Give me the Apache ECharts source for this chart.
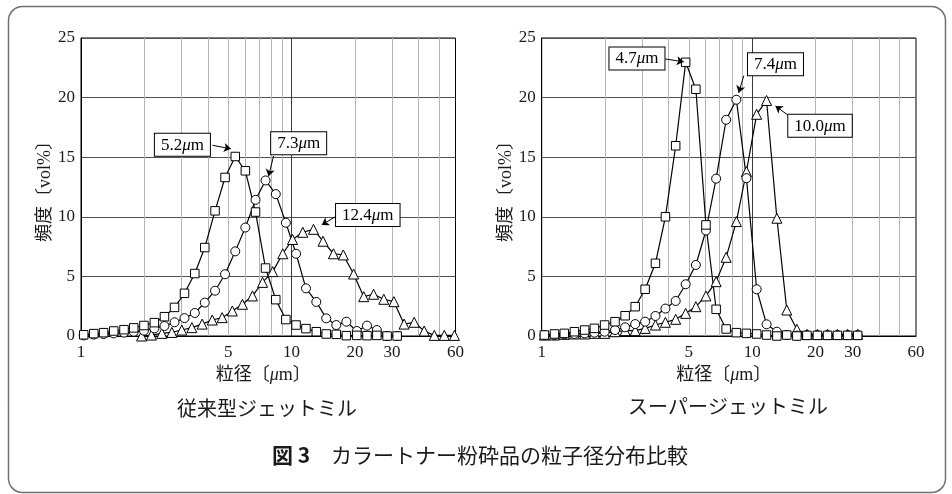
<!DOCTYPE html>
<html><head><meta charset="utf-8">
<script src="https://cdn.jsdelivr.net/npm/echarts@6/dist/echarts.min.js"></script>
<style>html,body{margin:0;padding:0;background:#fff}#c{width:952px;height:494px}</style>
</head><body><div id="c"></div>
<script>
// particle size bins (μm)
const sizesA = [1.03, 1.15, 1.28, 1.43, 1.6, 1.78, 1.99, 2.23, 2.49, 2.78, 3.1, 3.47, 3.87, 4.33, 4.83, 5.4, 6.03, 6.74, 7.52, 8.41, 9.39, 10.5, 11.7, 13.1, 14.6, 16.3, 18.2, 20.4, 22.8, 25.4, 28.4, 31.7];
const sizesB = [1.94, 2.16, 2.42, 2.7, 3.01, 3.36, 3.76, 4.2, 4.68, 5.23, 5.84, 6.52, 7.28, 8.13, 9.08, 10.1, 11.3, 12.7, 14.1, 15.8, 17.6, 19.7, 22.0, 24.5, 27.4, 30.6, 34.2, 38.2, 42.6, 47.6, 53.1, 59.3];

// 従来型ジェットミル
const leftSquare = [0.1, 0.2, 0.28, 0.42, 0.53, 0.68, 0.88, 1.12, 1.62, 2.4, 3.58, 5.24, 7.42, 10.5, 13.3, 15.06, 13.86, 10.4, 5.7, 3.05, 1.38, 0.92, 0.62, 0.36, 0.17, 0.14, 0.03, 0.05, 0.03, 0.05, 0, 0];
const leftCircle = [0.05, 0.12, 0.17, 0.22, 0.28, 0.36, 0.45, 0.64, 0.84, 1.15, 1.5, 1.93, 2.8, 3.8, 5.18, 7.1, 9.1, 11.42, 13.05, 11.9, 9.5, 6.9, 4.0, 2.86, 1.48, 0.92, 1.2, 0.42, 0.87, 0.5, 0, 0];
const leftTriangle = [0, 0.08, 0.22, 0.3, 0.5, 0.7, 1.0, 1.34, 1.54, 2.1, 2.66, 3.36, 4.5, 5.4, 6.9, 8.1, 8.7, 8.95, 7.95, 6.9, 6.8, 5.2, 3.3, 3.5, 3.08, 2.88, 1.0, 1.15, 0.42, 0.05, 0.05, 0.05];

// スーパージェットミル
const rightSquare = [0.08, 0.17, 0.22, 0.36, 0.5, 0.64, 0.92, 1.2, 1.7, 2.46, 3.92, 6.1, 10.0, 15.96, 22.96, 20.7, 9.32, 2.24, 0.59, 0.28, 0.22, 0.17, 0.08, 0, 0.08, 0, 0.05, 0.05, 0.05, 0.05, 0.05, 0.05];
const rightCircle = [0.06, 0.08, 0.14, 0.17, 0.22, 0.28, 0.36, 0.5, 0.73, 1.0, 1.2, 1.68, 2.3, 2.94, 4.34, 5.96, 8.85, 13.2, 18.14, 19.82, 13.24, 3.92, 0.98, 0.36, 0.08, 0.03, 0.08, 0.08, 0.08, 0.08, 0.08, 0.08];
const rightTriangle = [0.08, 0.08, 0.14, 0.17, 0.17, 0.22, 0.22, 0.36, 0.45, 0.45, 0.64, 0.92, 1.15, 1.4, 1.9, 2.46, 3.36, 4.56, 6.6, 9.6, 13.8, 18.6, 19.76, 9.88, 2.18, 0.56, 0.14, 0.14, 0.14, 0.14, 0.14, 0.14];

// axis ticks
const xLabelValues = [1, 5, 10, 20, 30, 60];
const xMinorGrid = [2, 3, 4, 5, 6, 7, 8, 9, 20, 30, 40, 50];
const xMajorGrid = [10];
const yMin = 0, yMax = 25, yStep = 5;

// peak annotations: text, box centre, arrow start, arrow tip (data coords)
const annLeft = [
  {num: '5.2', box: [3.03, 16.04], from: [4.21, 16.0], to: [5.15, 15.7]},
  {num: '7.3', box: [10.8, 16.17], from: [8.21, 15.1], to: [7.77, 13.4]},
  {num: '12.4', box: [23.0, 10.16], from: [16.2, 10.02], to: [13.9, 9.32]}
];
const annRight = [
  {num: '4.7', box: [2.835, 23.29], from: [3.87, 23.24], to: [4.73, 23.0]},
  {num: '7.4', box: [12.9, 22.79], from: [9.12, 21.84], to: [8.63, 20.4]},
  {num: '10.0', box: [21.0, 17.64], from: [14.7, 18.56], to: [12.9, 19.3]}
];

const SERIF = "'Liberation Serif', 'Noto Sans CJK JP', serif";
const TXT = '#1a1a1a';

function xAxes(gi) {
  return [
    {type: 'log', logBase: 10, min: 1, max: 60, gridIndex: gi,
     axisLine: {show: true, lineStyle: {color: '#000', width: 1}},
     axisTick: {show: false, customValues: xMinorGrid},
     axisLabel: {customValues: xLabelValues, color: TXT, fontFamily: SERIF, fontSize: 17, margin: 8, formatter: v => String(v)},
     splitLine: {show: true, lineStyle: {color: '#b4b4b4', width: 1}},
     name: '{a|粒径〔}{i|μ}{a|m〕}', nameLocation: 'middle', nameGap: 30,
     nameTextStyle: {padding: [0, 10, 0, 0], rich: {
       a: {fontFamily: SERIF, fontSize: 18, color: TXT},
       i: {fontFamily: SERIF, fontSize: 18, fontStyle: 'italic', color: TXT}}}},
    {type: 'log', logBase: 10, min: 1, max: 60, gridIndex: gi, position: 'bottom',
     axisLine: {show: false}, axisTick: {show: false, customValues: xMajorGrid},
     axisLabel: {show: false},
     splitLine: {show: true, lineStyle: {color: '#3a3a3a', width: 1}}}
  ];
}
function yAxis(gi) {
  return {type: 'value', min: yMin, max: yMax, interval: yStep, gridIndex: gi,
    axisLine: {show: true, lineStyle: {color: '#000', width: 1}},
    axisTick: {show: false},
    axisLabel: {color: TXT, fontFamily: SERIF, fontSize: 17, margin: 6},
    splitLine: {show: true, lineStyle: {color: '#505050', width: 1}},
    name: '頻度〔vol%〕', nameLocation: 'middle', nameRotate: 90, nameGap: 26,
    nameTextStyle: {fontFamily: SERIF, fontSize: 18, color: TXT}};
}
function annotate(a) {
  return {
    markPoint: {silent: true, symbol: 'rect', symbolSize: 1, itemStyle: {color: 'rgba(0,0,0,0)'},
      data: [{coord: a.box, value: a.num}],
      label: {show: true, position: 'inside', formatter: '{n|' + a.num + '}{i|μ}{n|m}',
        backgroundColor: '#fff', borderColor: '#000', borderWidth: 1, padding: [3, 6, 2, 6],
        rich: {n: {fontFamily: SERIF, fontSize: 17, color: '#000'},
               i: {fontFamily: SERIF, fontSize: 17, fontStyle: 'italic', color: '#000'}}}},
    markLine: {silent: true, symbol: ['none', 'arrow'], symbolSize: 7, animation: false,
      lineStyle: {color: '#000', width: 1, type: 'solid'}, label: {show: false},
      data: [[{coord: a.from}, {coord: a.to}]]}
  };
}
function mk(sizes, vals, symbol, size, gi, ann) {
  return Object.assign({
    type: 'line', xAxisIndex: gi * 2, yAxisIndex: gi,
    data: sizes.map((s, i) => [s, vals[i]]),
    symbol: symbol, symbolSize: size, showAllSymbol: true, animation: false,
    lineStyle: {color: '#000', width: 1.2},
    itemStyle: {color: '#fff', borderColor: '#000', borderWidth: 1},
    emphasis: {disabled: true}
  }, annotate(ann));
}

const chart = echarts.init(document.getElementById('c'), null, {renderer: 'canvas'});
chart.setOption({
  backgroundColor: '#fff',
  animation: false,
  grid: [
    {left: 81, top: 38, width: 374.5, height: 298, show: true, borderColor: '#000', borderWidth: 1},
    {left: 541.7, top: 38, width: 374.3, height: 298, show: true, borderColor: '#000', borderWidth: 1}
  ],
  xAxis: xAxes(0).concat(xAxes(1)),
  yAxis: [yAxis(0), yAxis(1)],
  series: [
    mk(sizesB, leftTriangle, 'triangle', 10, 0, annLeft[2]),
    mk(sizesA, leftCircle, 'circle', 9, 0, annLeft[1]),
    mk(sizesA, leftSquare, 'rect', 8.5, 0, annLeft[0]),
    mk(sizesA, rightTriangle, 'triangle', 10, 1, annRight[2]),
    mk(sizesA, rightCircle, 'circle', 9, 1, annRight[1]),
    mk(sizesA, rightSquare, 'rect', 8.5, 1, annRight[0])
  ],
  graphic: [
    {type: 'rect', silent: true, shape: {x: 8.5, y: 6.5, width: 937, height: 486, r: 14},
     style: {fill: 'none', stroke: '#707070', lineWidth: 1.5}},
    {type: 'text', silent: true, x: 267, y: 408,
     style: {text: '従来型ジェットミル', font: "20px 'Noto Sans CJK JP'", fill: TXT, align: 'center', verticalAlign: 'middle'}},
    {type: 'text', silent: true, x: 728, y: 406,
     style: {text: 'スーパージェットミル', font: "20px 'Noto Sans CJK JP'", fill: TXT, align: 'center', verticalAlign: 'middle'}},
    {type: 'text', silent: true, x: 480, y: 455,
     style: {text: '{b|図 3}{n|　カラートナー粉砕品の粒子径分布比較}', align: 'center', verticalAlign: 'middle',
       rich: {b: {font: "bold 21px 'Noto Sans CJK JP'", fill: TXT},
              n: {font: "21px 'Noto Sans CJK JP'", fill: TXT}}}}
  ]
});
</script></body></html>
